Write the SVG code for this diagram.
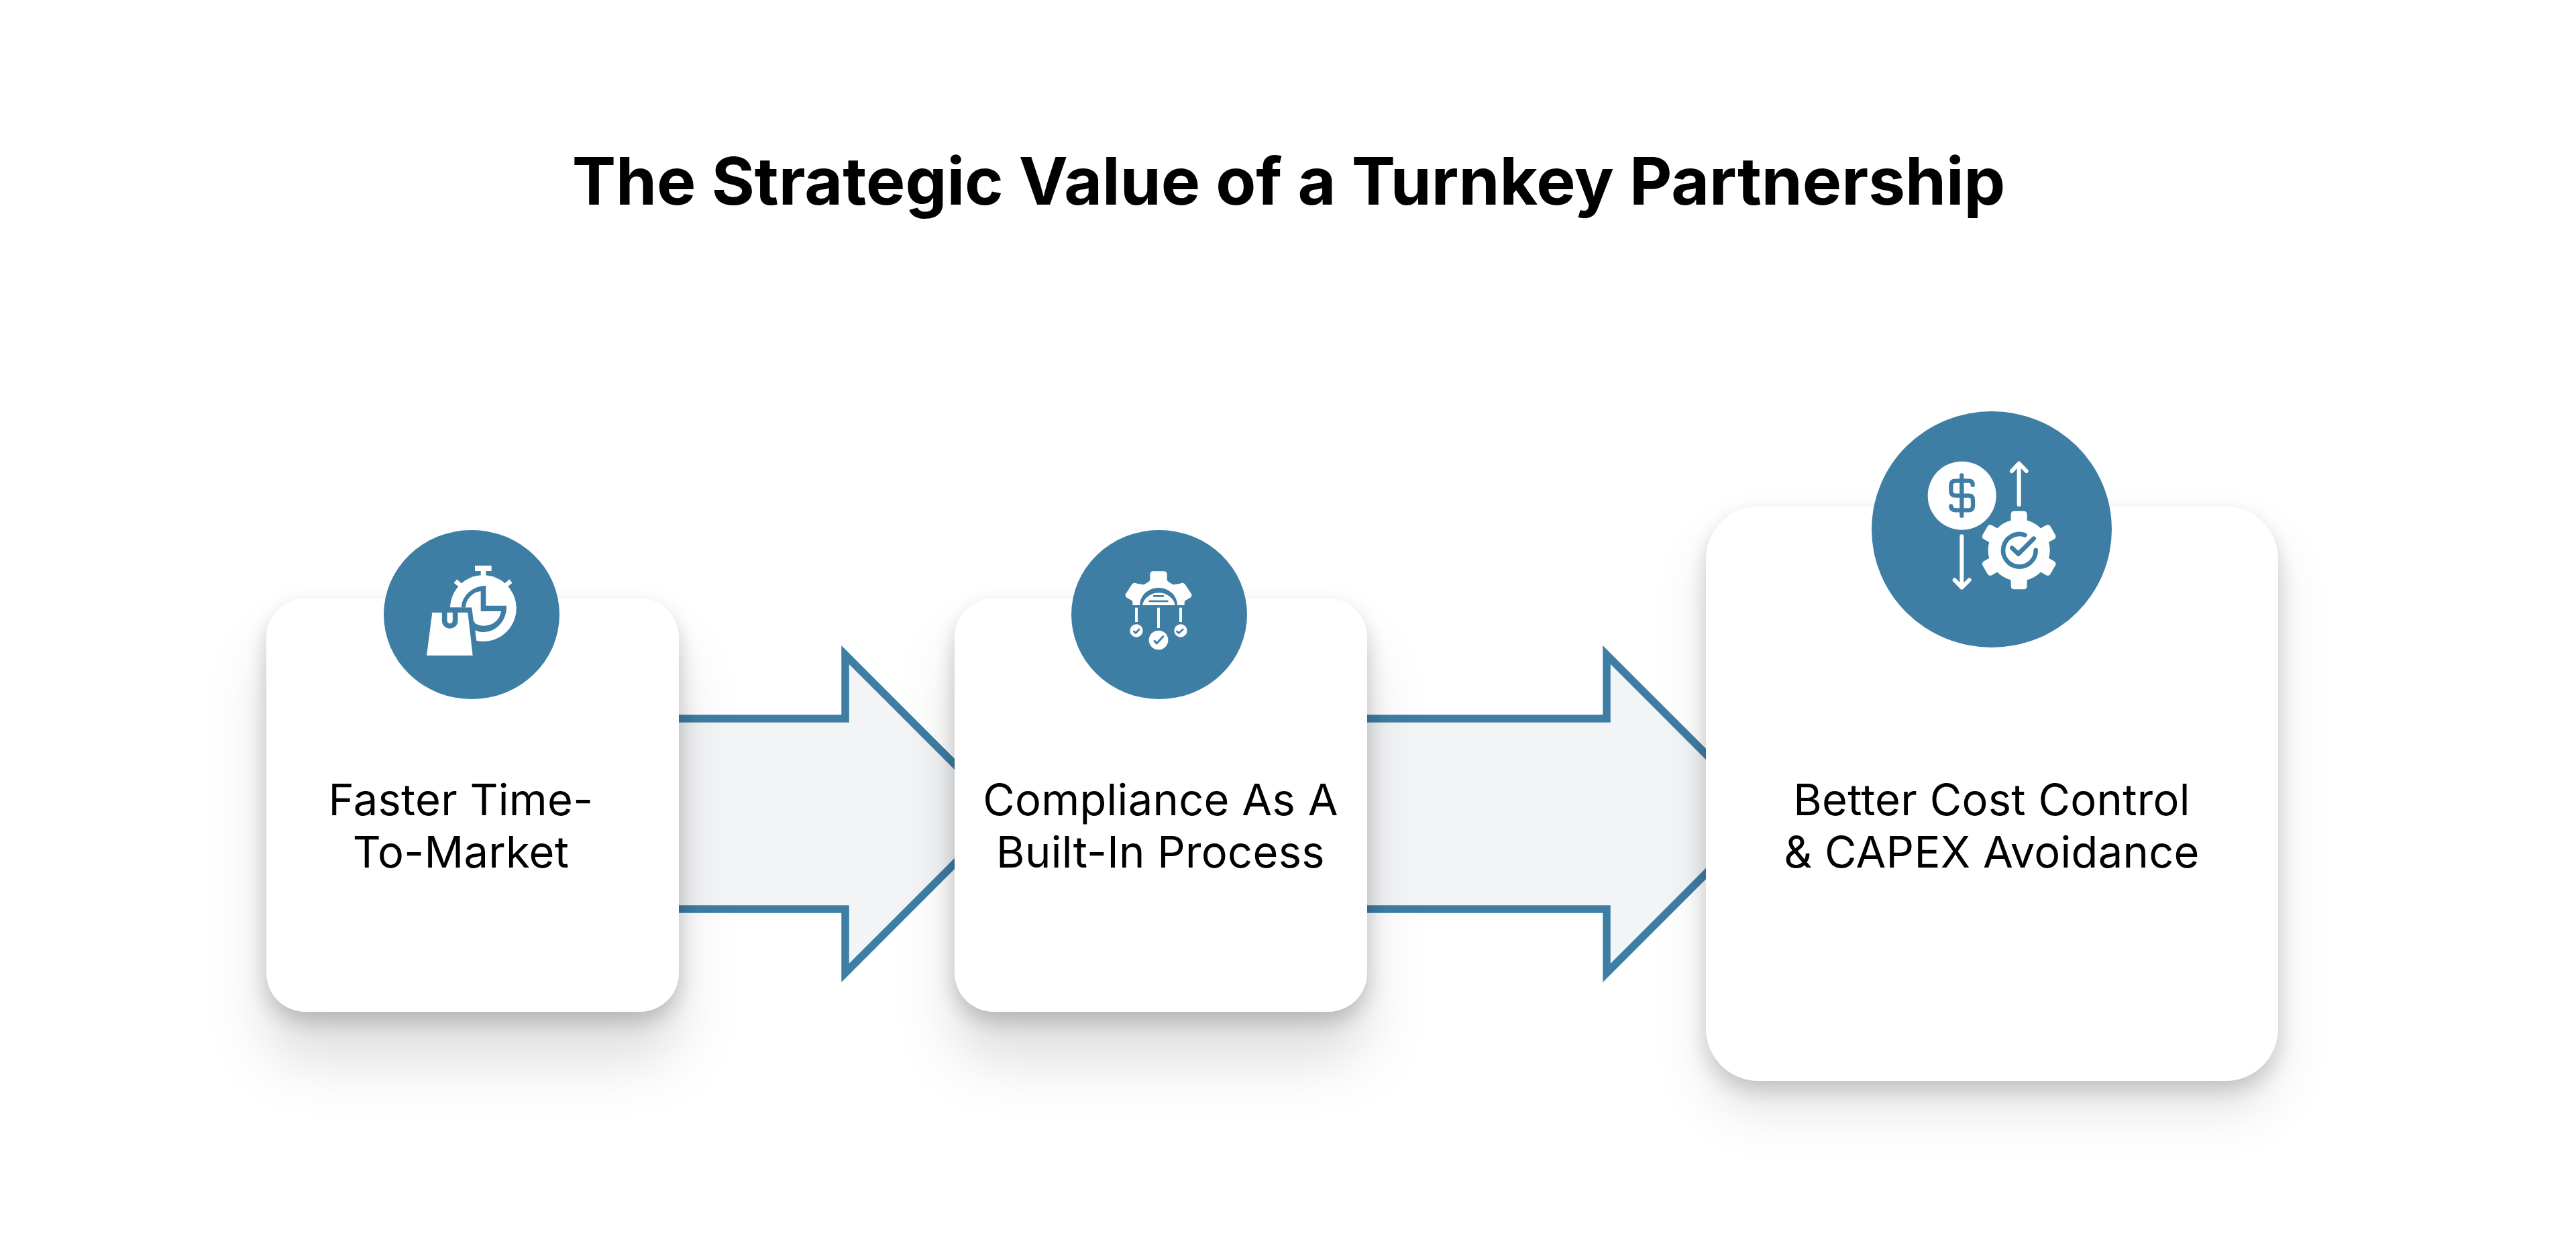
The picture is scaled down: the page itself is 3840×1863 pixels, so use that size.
<svg xmlns="http://www.w3.org/2000/svg" width="3840" height="1863" viewBox="0 0 3840 1863">
<style>
.t{font-family:Inter,"Liberation Sans",sans-serif;font-size:65px;fill:#000;text-anchor:middle;letter-spacing:.3px}
.title{font-family:Inter,"Liberation Sans",sans-serif;font-size:98px;font-weight:700;fill:#000;text-anchor:middle}
.card{fill:#fff;filter:url(#sh)}
.card3{fill:#fff;filter:url(#sh3)}
.disc{fill:#3e7ea4}
.arrow{fill:#f3f4f6;stroke:#3e7ea4;stroke-width:11.5}
.w{fill:#fff}.ws{stroke:#fff;fill:none;stroke-linecap:round;stroke-linejoin:round}
.b{fill:#3e7ea4}.bs{stroke:#3e7ea4;fill:none;stroke-linecap:round;stroke-linejoin:round}
</style>
<defs>
<filter id="sh" x="-40%" y="-40%" width="180%" height="200%" color-interpolation-filters="sRGB">
<feGaussianBlur in="SourceAlpha" stdDeviation="16" result="a"/>
<feOffset in="a" dy="14" result="a1"/>
<feFlood flood-color="#000" flood-opacity=".2"/><feComposite in2="a1" operator="in" result="s1"/>
<feGaussianBlur in="SourceAlpha" stdDeviation="42" result="b"/>
<feOffset in="b" dy="72" result="b1"/>
<feFlood flood-color="#000" flood-opacity=".13"/><feComposite in2="b1" operator="in" result="s2"/>
<feMerge><feMergeNode in="s2"/><feMergeNode in="s1"/><feMergeNode in="SourceGraphic"/></feMerge>
</filter>
<filter id="sh3" x="-30%" y="-30%" width="160%" height="170%" color-interpolation-filters="sRGB">
<feGaussianBlur in="SourceAlpha" stdDeviation="16" result="a"/>
<feOffset in="a" dy="14" result="a1"/>
<feFlood flood-color="#000" flood-opacity=".17"/><feComposite in2="a1" operator="in" result="s1"/>
<feGaussianBlur in="SourceAlpha" stdDeviation="36" result="b"/>
<feOffset in="b" dy="45" result="b1"/>
<feFlood flood-color="#000" flood-opacity=".1"/><feComposite in2="b1" operator="in" result="s2"/>
<feMerge><feMergeNode in="s2"/><feMergeNode in="s1"/><feMergeNode in="SourceGraphic"/></feMerge>
</filter>
</defs>
<rect width="3840" height="1863" fill="#fff"/>
<text class="title" x="1921" y="305">The Strategic Value of a Turnkey Partnership</text>
<g id="connectors">
<path id="arrow-1" class="arrow" d="M960 1071H1260V976L1497 1213L1260 1450V1355H960Z"/>
<path id="arrow-2" class="arrow" d="M1990 1071H2395V976L2632 1213L2395 1450V1355H1990Z"/>
</g>
<g id="node-1">
<rect class="card" x="397" y="892" width="615" height="616" rx="58"/>
<ellipse class="disc" cx="703" cy="916" rx="131" ry="126"/>
<g transform="translate(540 761) scale(.33333)">
<rect class="w" x="504" y="246" width="74" height="24"/><rect class="w" x="530" y="265" width="23" height="35"/>
<rect class="w" x="413" y="315" width="30" height="20" transform="rotate(40 428 325)"/><rect class="w" x="638" y="315" width="30" height="20" transform="rotate(-40 653 325)"/>
<circle class="w" cx="541" cy="437" r="148"/>
<path class="b" d="M380 433H490L512 590H440L380 520Z"/>
<path class="b" d="M553 336V425H645A104 112 0 0 1 502 535L490 433H443A110 100 0 0 1 553 336Z"/>
<path class="w" d="M530 360A78 78 0 0 0 462 433H490L497 490L505 505Q525 516 545 515Q610 510 621 450H530Z"/>
<path class="w" d="M313 456H472L494 648H288Z"/>
<path class="bs" stroke-width="23" d="M368 450V492A24 24 0 0 0 416 492V450"/>
</g>
<text class="t" x="687" y="1215">Faster Time-</text>
<text class="t" x="687" y="1293">To-Market</text>
</g>
<g id="node-2">
<rect class="card" x="1423" y="892" width="615" height="616" rx="58"/>
<ellipse class="disc" cx="1728" cy="916" rx="131" ry="126"/>
<g transform="translate(1570 771) scale(.33333)">
<path class="w" d="M449 241H493Q509 241 509 257V278Q509 284 515 288L533 299Q540 303 547 299L566 297Q580 288 590 300L616 340Q625 352 612 360L592 371Q587 374 587 380V393H355V380Q355 374 350 371L330 360Q317 352 326 340L352 300Q362 288 376 297L395 299Q402 303 409 299L427 288Q433 284 433 278V257Q433 241 449 241Z"/>
<path class="b" d="M387 393A84 78 0 0 1 555 393H545A74 66 0 0 0 399 393Z"/>
<path class="bs" stroke-width="8" d="M450 352H492M431 375H511"/>
<rect class="w" x="366" y="404" width="12" height="64"/><rect class="w" x="465" y="404" width="12" height="91"/><rect class="w" x="564" y="404" width="12" height="64"/>
<circle class="w" cx="372" cy="507" r="29"/><circle class="w" cx="471" cy="549" r="43"/><circle class="w" cx="570" cy="507" r="29"/>
<path class="bs" stroke-width="8" d="M361 510L369 518L384 501M553 510L561 518L580 501"/>
<path class="bs" stroke-width="9" d="M453 553L463 564L491 533"/>
</g>
<text class="t" x="1730" y="1215">Compliance As A</text>
<text class="t" x="1730" y="1293">Built-In Process</text>
</g>
<g id="node-3">
<rect class="card3" x="2543" y="755" width="853" height="856" rx="78"/>
<ellipse class="disc" cx="2969" cy="789" rx="179" ry="176"/>
<g transform="translate(2770 600) scale(.33333)">
<circle class="w" cx="464" cy="416" r="153"/>
<path class="bs" stroke-width="19" d="M463 325V506M512 368Q512 350 495 350H435Q415 350 415 370V395Q415 416 435 416H495Q513 416 513 436V462Q513 481 495 481H435Q415 481 415 463"/>
<path class="ws" stroke-width="18" d="M719 456V272M687 306L719 272L752 306"/>
<path class="ws" stroke-width="18" d="M463 598V825M431 793L463 827L497 793"/>
<g id="gear" transform="translate(719 660)">
<circle class="w" r="138"/>
<rect class="w" x="-36" y="-175" width="72" height="70" rx="14"/>
<rect class="w" x="-36" y="-175" width="72" height="70" rx="14" transform="rotate(60)"/>
<rect class="w" x="-36" y="-175" width="72" height="70" rx="14" transform="rotate(120)"/>
<rect class="w" x="-36" y="-175" width="72" height="70" rx="14" transform="rotate(180)"/>
<rect class="w" x="-36" y="-175" width="72" height="70" rx="14" transform="rotate(240)"/>
<rect class="w" x="-36" y="-175" width="72" height="70" rx="14" transform="rotate(300)"/>
</g>
<path class="bs" stroke-width="20" d="M745 592A73 73 0 1 0 794 660"/>
<path class="bs" stroke-width="20" d="M688 650L716 677L785 608"/>
</g>
<text class="t" x="2969" y="1215">Better Cost Control</text>
<text class="t" x="2969" y="1293">&amp; CAPEX Avoidance</text>
</g>
</svg>
